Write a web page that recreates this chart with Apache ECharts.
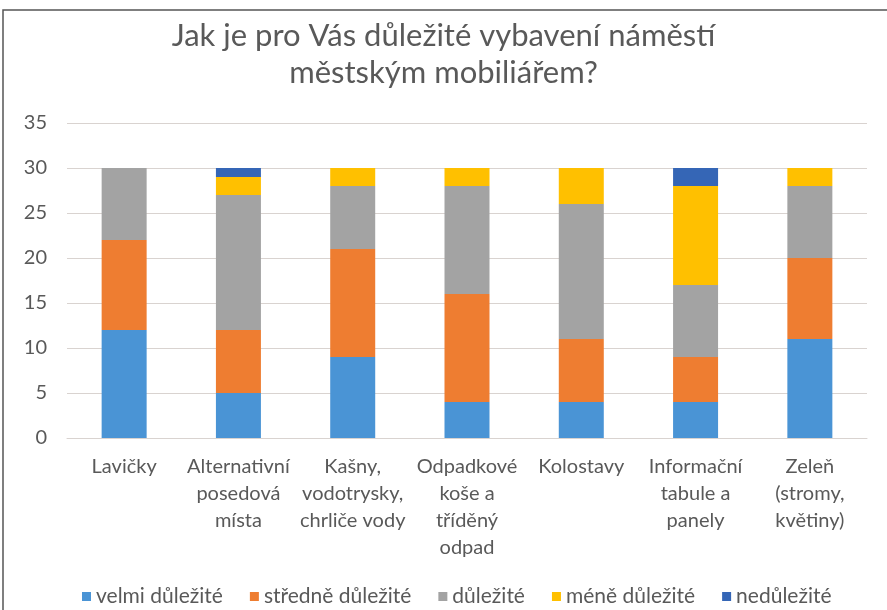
<!DOCTYPE html>
<html>
<head>
<meta charset="utf-8">
<script src="https://cdn.jsdelivr.net/npm/echarts@6/dist/echarts.min.js"></script>
<style>
html,body{margin:0;padding:0;background:#fff;}
#main{width:887px;height:610px;}
</style>
</head>
<body>
<div id="main"></div>
<script>
const categories = ["Lavičky", "Alternativní\nposedová\nmísta", "Kašny,\nvodotrysky,\nchrliče vody", "Odpadkové\nkoše a\ntříděný\nodpad", "Kolostavy", "Informační\ntabule a\npanely", "Zeleň\n(stromy,\nkvětiny)"];
const seriesNames = ["velmi důležité", "středně důležité", "důležité", "méně důležité", "nedůležité"];
const velmi = [12, 5, 9, 4, 4, 4, 11];
const stredne = [10, 7, 12, 12, 7, 5, 9];
const dulezite = [8, 15, 7, 12, 15, 8, 8];
const mene = [0, 2, 2, 2, 4, 11, 2];
const nedulezite = [0, 1, 0, 0, 0, 2, 0];
const yTicks = [0, 5, 10, 15, 20, 25, 30, 35];
const colors = ["#4A94D5", "#EE7D31", "#A3A3A3", "#FFC000", "#3566B6"];

const allValues = [velmi, stredne, dulezite, mene, nedulezite];
const font = "Lato, 'Liberation Sans', sans-serif";
const chart = echarts.init(document.getElementById('main'));
chart.setOption({
  animation: false,
  backgroundColor: '#fff',
  title: {
    text: 'Jak je pro Vás důležité vybavení náměstí\nměstským mobiliářem?',
    left: 'center', top: 12,
    textStyle: {fontFamily: font, fontSize: 31, fontWeight: 'normal', color: '#595959', lineHeight: 37}
  },
  legend: {
    top: 581, left: 77,
    itemWidth: 9, itemHeight: 9, itemGap: 27,
    icon: 'rect',
    textStyle: {fontFamily: font, fontSize: 21, color: '#595959'},
    data: seriesNames
  },
  grid: {left: 67, right: 20, top: 123, bottom: 172},
  xAxis: {
    type: 'category', data: categories,
    axisLine: {lineStyle: {color: '#d9d3d0'}},
    axisTick: {show: false},
    axisLabel: {interval: 0, fontFamily: font, fontSize: 20, color: '#595959', lineHeight: 27, margin: 15}
  },
  yAxis: {
    type: 'value', min: yTicks[0], max: yTicks[yTicks.length-1], interval: 5,
    axisLine: {show: false}, axisTick: {show: false},
    splitLine: {lineStyle: {color: '#d9d3d0', width: 1.2}},
    axisLabel: {fontFamily: font, fontSize: 20, color: '#595959', margin: 20}
  },
  graphic: [{
    type: 'rect', shape: {x: 3, y: 10, width: 900, height: 620},
    style: {fill: 'none', stroke: '#555', lineWidth: 1.5}, silent: true, z: 100
  }],
  series: seriesNames.map((n, i) => ({
    name: n, type: 'bar', stack: 'total', barWidth: 45,
    itemStyle: {color: colors[i]},
    data: allValues[i]
  }))
});
</script>
</body>
</html>
